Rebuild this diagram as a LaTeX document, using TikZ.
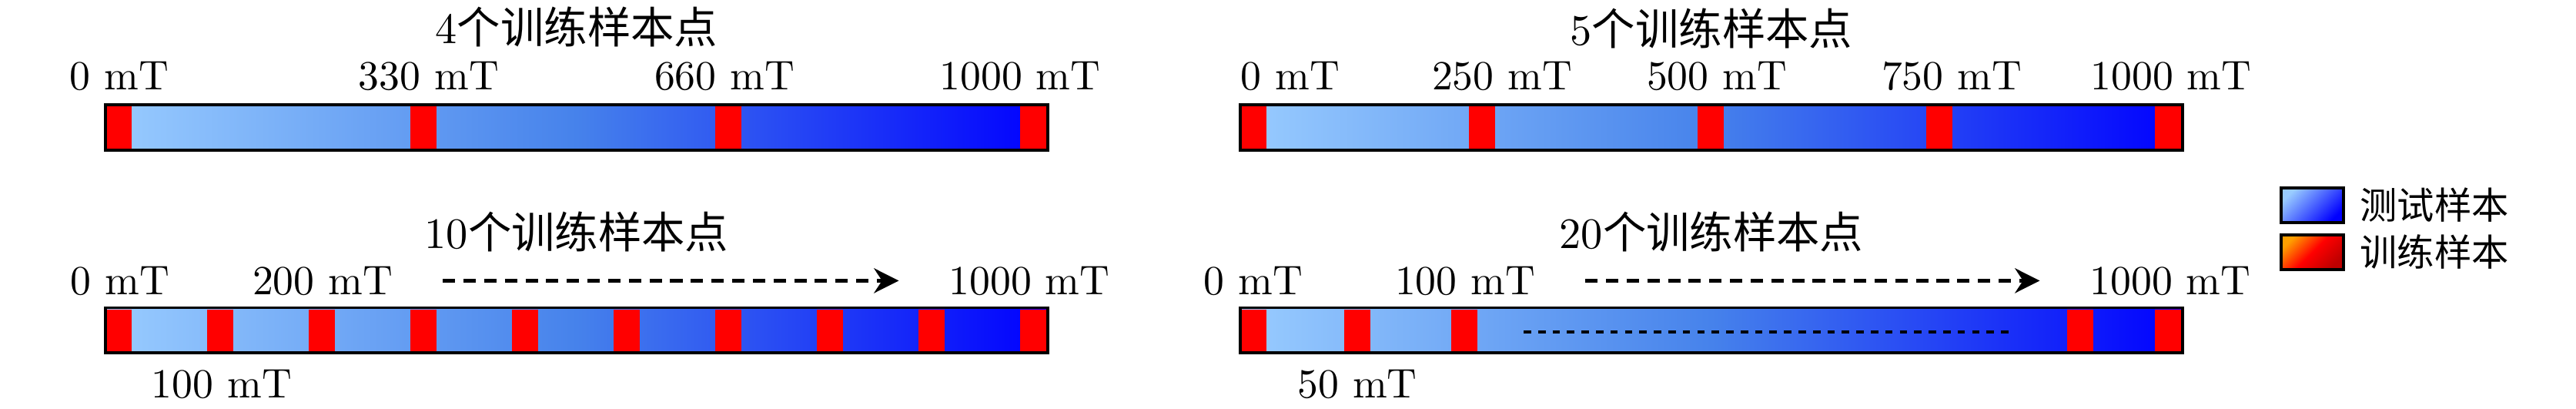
\documentclass[tikz,border=0pt]{standalone}
\usepackage{fontspec}
\newfontfamily\cjk{Noto Sans CJK SC}
\usetikzlibrary{arrows.meta,calc,positioning}

\definecolor{testlo}{RGB}{153,204,255}
\definecolor{testmid}{RGB}{70,130,235}
\definecolor{testhi}{RGB}{0,0,255}
\definecolor{trainlo}{RGB}{255,160,0}
\definecolor{trainhi}{RGB}{190,0,0}

\tikzset{
  bar/.style={inner sep=0pt,minimum width=8cm,minimum height=0.37cm,
    left color=testlo,right color=testhi,middle color=testmid},
  barframe/.style={draw=black,line width=0.7pt},
  train/.style={fill=red},
  val/.style={anchor=base,inner sep=0pt},
  heading/.style={font=\fontsize{10.5}{12}\selectfont,inner sep=0pt},
  keybox/.style={draw=black,line width=0.8pt,minimum width=0.53cm,
    minimum height=0.295cm,inner sep=0pt},
  keytext/.style={inner sep=0pt,font=\small\cjk},
  trend/.style={->,thick,densely dashed,shorten <=0.42cm,shorten >=0.42cm},
  gapline/.style={line width=0.6pt,dash pattern=on 1.8pt off 1.7pt}
}

\begin{document}
\begin{tikzpicture}[>={Stealth[length=6pt,width=6pt]}]
  \useasboundingbox (0,0) rectangle (21.905,3.476);
  % bars
  \node[bar] (bar4) at (4.903,2.393) {};
  \node[bar] (bar5) at (14.553,2.393) {};
  \node[bar] (bar10) at (4.903,0.668) {};
  \node[bar] (bar20) at (14.553,0.668) {};
  % training points
  \foreach \i in {0,...,3}
    \fill[train] ($(bar4.south west)+(\i*2.592,0)$) rectangle ++(0.223,0.37);
  \foreach \i in {0,...,4}
    \fill[train] ($(bar5.south west)+(\i*1.944,0)$) rectangle ++(0.223,0.37);
  \foreach \i in {0,...,9}
    \fill[train] ($(bar10.south west)+(\i*0.864,0)$) rectangle ++(0.223,0.37);
  \foreach \x in {0,0.884,1.794,7.031,7.777}
    \fill[train] ($(bar20.south west)+(\x,0)$) rectangle ++(0.223,0.37);
  \foreach \b in {bar4,bar5,bar10,bar20}
    \draw[barframe] (\b.south west) rectangle (\b.north east);
  \draw[gapline] ($(bar20.west)+(2.41,-0.013)$) -- ($(bar20.west)+(6.56,-0.013)$);
  % titles
  \node[heading] (tit4) at (4.903,3.245) {4\cjk 个训练样本点};
  \node[heading] (tit5) at (14.553,3.235) {5\cjk 个训练样本点};
  \node[heading] (tit10) at (4.903,1.506) {10\cjk 个训练样本点};
  \node[heading] (tit20) at (14.553,1.506) {20\cjk 个训练样本点};
  % values
  \node[val] (b4a) at (1.015,2.71) {0 mT};
  \node[val] (b4b) at (3.646,2.71) {330 mT};
  \node[val] (b4c) at (6.16,2.71) {660 mT};
  \node[val] (b4d) at (8.674,2.71) {1000 mT};
  \node[val] (b5a) at (10.972,2.71) {0 mT};
  \node[val] (b5b) at (12.772,2.71) {250 mT};
  \node[val] (b5c) at (14.599,2.71) {500 mT};
  \node[val] (b5d) at (16.596,2.71) {750 mT};
  \node[val] (b5e) at (18.462,2.71) {1000 mT};
  \node[val] (b10a) at (1.021,0.975) {0 mT};
  \node[val] (b10b) at (2.743,0.975) {200 mT};
  \node[val] (b10c) at (8.753,0.975) {1000 mT};
  \node[val] (b10d) at (1.885,0.092) {100 mT};
  \node[val] (b20a) at (10.658,0.975) {0 mT};
  \node[val] (b20b) at (12.458,0.975) {100 mT};
  \node[val] (b20c) at (18.455,0.975) {1000 mT};
  \node[val] (b20d) at (11.542,0.092) {50 mT};
  \draw[trend] (b10b.east) -- (b10c.west);
  \draw[trend] (b20b.east) -- (b20c.west);
  % legend
  \node[keybox,left color=testlo,right color=testhi,shading angle=45] (keytest) at (19.663,1.732) {};
  \node[keytext,right=0.12cm of keytest] (keytestl) {测试样本};
  \node[keybox,left color=trainlo,right color=trainhi,middle color=red,shading angle=45] (keytrain) at (19.663,1.332) {};
  \node[keytext,right=0.12cm of keytrain] (keytrainl) {训练样本};
\end{tikzpicture}
\end{document}
